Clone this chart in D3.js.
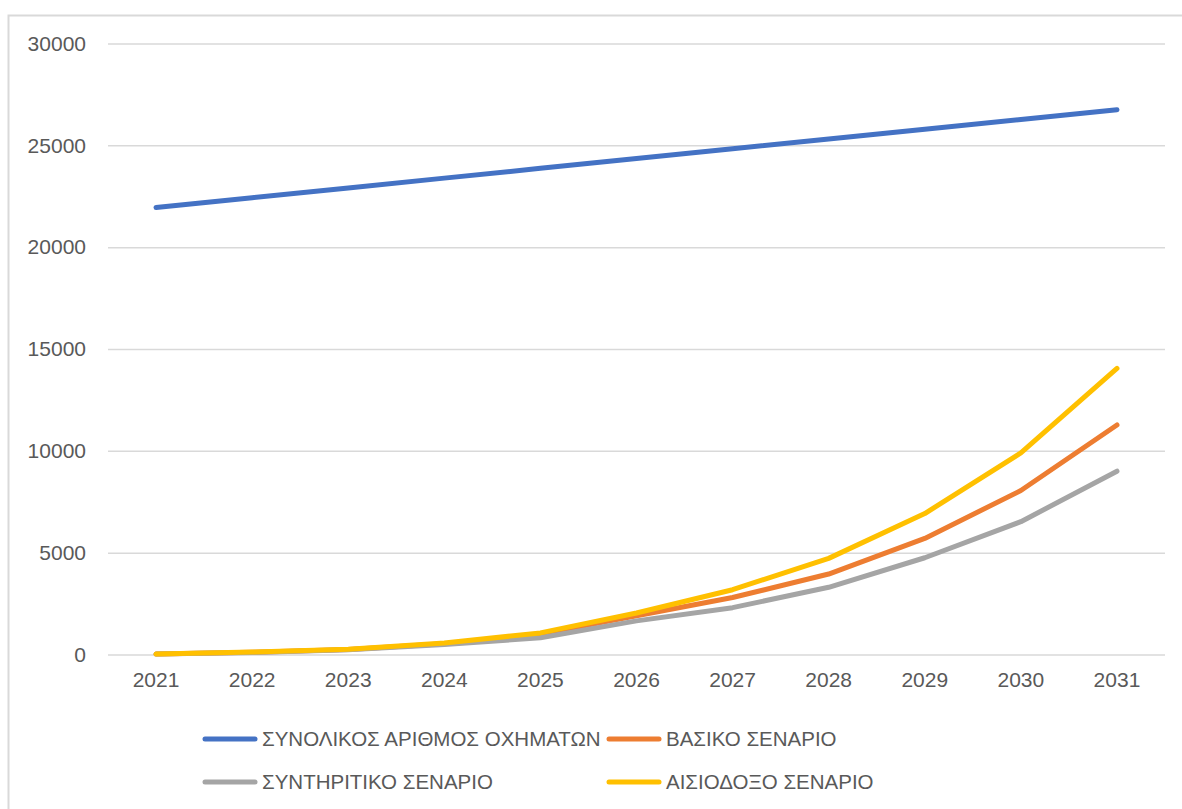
<!DOCTYPE html>
<html>
<head>
<meta charset="utf-8">
<script src="https://cdn.jsdelivr.net/npm/d3@7"></script>
<style>
  body { margin: 0; background: #fff; }
  text { font-family: "Liberation Sans", Arial, sans-serif; fill: #595959; }
</style>
</head>
<body>
<div id="canvas"></div>
<script>
"use strict"

/* chart data */
let years = ["2021", "2022", "2023", "2024", "2025", "2026", "2027", "2028", "2029", "2030", "2031"];
let yTicks = [0, 5000, 10000, 15000, 20000, 25000, 30000];

let totalVehicles = [21950, 22430, 22910, 23390, 23870, 24350, 24830, 25310, 25790, 26270, 26750];
let baseScenario = [20, 110, 250, 530, 1000, 1900, 2800, 3950, 5700, 8050, 11270];
let conservScenario = [20, 100, 230, 490, 820, 1650, 2300, 3300, 4750, 6520, 9000];
let optimScenario = [20, 120, 255, 560, 1060, 2040, 3180, 4720, 6920, 9900, 14050];

let seriesNames = ["ΣΥΝΟΛΙΚΟΣ ΑΡΙΘΜΟΣ ΟΧΗΜΑΤΩΝ", "ΒΑΣΙΚΟ ΣΕΝΑΡΙΟ", "ΣΥΝΤΗΡΙΤΙΚΟ ΣΕΝΑΡΙΟ", "ΑΙΣΙΟΔΟΞΟ ΣΕΝΑΡΙΟ"];
let seriesColors = ["#4472c4", "#ed7d31", "#a5a5a5", "#ffc000"];
let seriesValues = [totalVehicles, baseScenario, conservScenario, optimScenario];

let drawing = d3.select("#canvas")
    .append("svg")
    .attr("width", 1182)
    .attr("height", 809);

/* outer chart frame, only left and top show in the picture */
let frame = drawing.append("rect")
    .attr("x", 8.5).attr("y", 15.5)
    .attr("width", 1200).attr("height", 820)
    .attr("fill", "none")
    .attr("stroke", "#d9d9d9")
    .attr("stroke-width", 2);

let x = d3.scaleBand()
    .domain(years)
    .range([108, 1165]);

let y = d3.scaleLinear()
    .domain([0, 30000])
    .range([654.5, 43.5]);

/* gridlines */
let grid = drawing.append("g")
    .attr("transform", "translate(108,0)")
    .call(d3.axisLeft(y).tickValues(yTicks).tickSize(-1057).tickFormat(""));
grid.select(".domain").remove();
grid.selectAll("line").attr("stroke", "#d9d9d9").attr("stroke-width", 1.5);

/* y axis labels */
let yAxis = drawing.append("g")
    .attr("transform", "translate(86,0)")
    .call(d3.axisLeft(y).tickValues(yTicks).tickSize(0).tickPadding(0).tickFormat(d3.format("d")));
yAxis.select(".domain").remove();
yAxis.selectAll("text")
    .style("font-size", "21px")
    .attr("fill", "#595959");

/* x axis labels */
let xAxis = drawing.append("g")
    .attr("transform", "translate(0,672)")
    .call(d3.axisBottom(x).tickSize(0).tickPadding(0));
xAxis.select(".domain").remove();
xAxis.selectAll("text")
    .style("font-size", "21px")
    .attr("fill", "#595959");

/* lines */
let line = d3.line()
    .x((d, i) => x(years[i]) + x.bandwidth() / 2)
    .y(d => y(d));

seriesValues.forEach((vals, k) => {
    drawing.append("path")
        .datum(vals)
        .attr("d", line)
        .attr("fill", "none")
        .attr("stroke", seriesColors[k])
        .attr("stroke-width", 5)
        .attr("stroke-linecap", "round")
        .attr("stroke-linejoin", "round");
});

/* legend, two columns by two rows */
let legendX = [203, 607];
let legendY = [739, 782];

seriesNames.forEach((name, k) => {
    let lx = legendX[k % 2];
    let ly = legendY[Math.floor(k / 2)];
    drawing.append("line")
        .attr("x1", lx + 2).attr("y1", ly)
        .attr("x2", lx + 52).attr("y2", ly)
        .attr("stroke", seriesColors[k])
        .attr("stroke-width", 5)
        .attr("stroke-linecap", "round");
    drawing.append("text")
        .attr("x", lx + 59)
        .attr("y", ly)
        .attr("dy", "0.36em")
        .style("font-size", "20.5px")
        .text(name);
});
</script>
</body>
</html>
